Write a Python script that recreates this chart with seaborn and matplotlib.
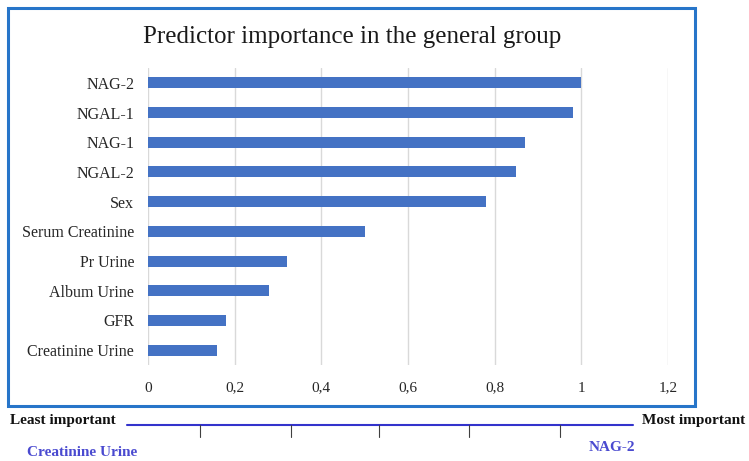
import pandas as pd
import numpy as np
import matplotlib
matplotlib.use('Agg')
import matplotlib.pyplot as plt
import seaborn as sns
from matplotlib.patches import Rectangle
from matplotlib.lines import Line2D

# Predictor importance values
predictors = ['NAG-2', 'NGAL-1', 'NAG-1', 'NGAL-2', 'Sex', 'Serum Creatinine',
              'Pr Urine', 'Album Urine', 'GFR', 'Creatinine Urine']
importance = [1.0, 0.98, 0.87, 0.85, 0.78, 0.50, 0.32, 0.28, 0.18, 0.16]
x_ticks = [0, 0.2, 0.4, 0.6, 0.8, 1.0, 1.2]
x_tick_labels = ['0', '0,2', '0,4', '0,6', '0,8', '1', '1,2']

df = pd.DataFrame({'Predictor': predictors, 'Importance': importance})

sns.set_style('white')
plt.rcParams['font.family'] = ['Liberation Serif', 'DejaVu Serif']

W, H = 749, 461
fig = plt.figure(figsize=(W / 100, H / 100), dpi=100)
ax = fig.add_axes([148 / W, 1 - 365 / H, (668 - 148) / W, (365 - 68) / H])

sns.barplot(data=df, x='Importance', y='Predictor', orient='h', color='#4472C4',
            saturation=1, width=0.37, linewidth=0, ax=ax, zorder=3)

ax.set_xlim(0, 1.2)
ax.set_ylim(9.5, -0.5)
ax.set_xticks(x_ticks)
ax.set_xticklabels(x_tick_labels, fontsize=11, color='#262626')
ax.tick_params(axis='y', labelsize=11.5, colors='#262626', length=0, pad=10)
ax.tick_params(axis='x', length=0, pad=12)
ax.grid(axis='x', color='#D9D9D9', linewidth=1, zorder=0)
ax.set_axisbelow(True)
for s in ax.spines.values():
    s.set_visible(False)
ax.set_xlabel('')
ax.set_ylabel('')

# Title
fig.text(352 / W, 1 - 37 / H, 'Predictor importance in the general group',
         ha='center', va='center', fontsize=18, color='#1a1a1a')

# Blue frame around chart
fig.patches.append(Rectangle((8 / W, 1 - 406 / H), (695 - 8) / W, (406 - 8) / H,
                             transform=fig.transFigure, fill=False,
                             edgecolor='#2775C9', linewidth=2.2))

# Importance scale below the chart
line_y = 1 - 425 / H
fig.lines.append(Line2D([127 / W, 633 / W], [line_y, line_y], transform=fig.transFigure,
                        color='#3333CC', linewidth=1.5))
for tx in [200, 291, 379, 469, 560]:
    fig.lines.append(Line2D([tx / W, tx / W], [line_y, 1 - 437 / H], transform=fig.transFigure,
                            color='#404040', linewidth=0.8))

fig.text(10 / W, 1 - 420 / H, 'Least important', ha='left', va='center',
         fontsize=11, fontweight='bold', color='#111111')
fig.text(642 / W, 1 - 420 / H, 'Most important', ha='left', va='center',
         fontsize=11, fontweight='bold', color='#111111')
fig.text(27 / W, 1 - 452 / H, predictors[-1], ha='left', va='center',
         fontsize=11, fontweight='bold', color='#4A4AD0')
fig.text(612 / W, 1 - 447 / H, predictors[0], ha='center', va='center',
         fontsize=11, fontweight='bold', color='#4A4AD0')

fig.savefig('out.png', dpi=100)
